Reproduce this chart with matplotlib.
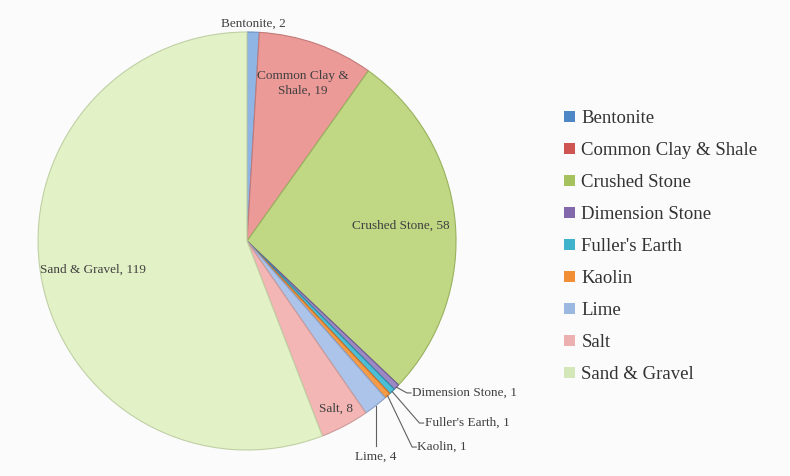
import matplotlib
matplotlib.use("Agg")
import matplotlib.pyplot as plt
from matplotlib.patches import Patch
import numpy as np

# minerals and counts
minerals = ["Bentonite", "Common Clay & Shale", "Crushed Stone", "Dimension Stone",
            "Fuller's Earth", "Kaolin", "Lime", "Salt", "Sand & Gravel"]
counts = [2, 19, 58, 1, 1, 1, 4, 8, 119]

slice_colors = ["#8fb5e5", "#ec9a98", "#c0d784", "#9c88c2", "#4cbfd6",
                "#f59a45", "#adc4ea", "#f4b6b5", "#e3f1c6"]
edge_colors = ["#6a90c4", "#c27a78", "#98b25e", "#6c5a94", "#2e90a8",
               "#c8702a", "#8aa2c8", "#cc9a99", "#c0d0a4"]
legend_colors = ["#4f86c6", "#cf5552", "#a6c25e", "#8468ac", "#3fb2cc",
                 "#f28f35", "#9bb8e0", "#ecb0b0", "#d4e7b8"]

plt.rcParams["font.family"] = ["Liberation Serif", "DejaVu Serif"]

fig = plt.figure(figsize=(7.9, 4.76), dpi=100)
fig.patch.set_facecolor("#fbfbfb")

L = 1.1
ax = fig.add_axes([0.3127 - 0.291, 0.4937 - 0.483, 0.582, 0.966])
wedges, _ = ax.pie(counts, colors=slice_colors, startangle=90, counterclock=False,
                   radius=1.0, wedgeprops=dict(linewidth=0.8))
for w, ec in zip(wedges, edge_colors):
    w.set_edgecolor(ec)
ax.set_xlim(-L, L)
ax.set_ylim(-L, L)
ax.axis("off")

total = sum(counts)
mids = []
acc = 0
for c in counts:
    a0 = 90 - acc / total * 360
    a1 = 90 - (acc + c) / total * 360
    mids.append(np.deg2rad((a0 + a1) / 2))
    acc += c

txt_color = "#404040"
lab_size = 9.5


def polar(i, r):
    return r * np.cos(mids[i]), r * np.sin(mids[i])


# labels placed inside / just outside the big slices
inside = {0: (1.04, "Bentonite, 2"),
          1: (0.80, "Common Clay &\nShale, 19"),
          2: (0.74, "Crushed Stone, 58"),
          7: (0.91, "Salt, 8"),
          8: (0.75, "Sand & Gravel, 119")}
for i, (r, s) in inside.items():
    x, y = polar(i, r)
    ax.text(x, y, s, ha="center", va="center", fontsize=lab_size,
            color=txt_color, linespacing=1.3)

# leader lines for the thin slices
lead_col = "#606060"
callouts = {3: (0.79, -0.727, "Dimension Stone, 1"),
            4: (0.85, -0.871, "Fuller's Earth, 1"),
            5: (0.815, -0.986, "Kaolin, 1")}
for i, (tx, ty, s) in callouts.items():
    ex, ey = polar(i, 1.0)
    ax.plot([ex, tx - 0.025, tx - 0.005], [ey, ty, ty], color=lead_col, lw=0.8,
            clip_on=False)
    ax.text(tx, ty, s, ha="left", va="center", fontsize=lab_size, color=txt_color)

ex, ey = polar(6, 1.0)
ax.plot([ex, ex], [ey, -0.98], color=lead_col, lw=0.8, clip_on=False)
ax.text(ex, -1.03, "Lime, 4", ha="center", va="center", fontsize=lab_size,
        color=txt_color)

handles = [Patch(facecolor=c, edgecolor="none") for c in legend_colors]
fig.legend(handles, minerals, loc="upper left", bbox_to_anchor=(0.705, 0.785),
           frameon=False, fontsize=13.5, handlelength=0.55, handleheight=0.55,
           handletextpad=0.35, labelspacing=0.8, borderaxespad=0,
           labelcolor="#333333")

fig.savefig("out.png", dpi=100, facecolor=fig.get_facecolor())
